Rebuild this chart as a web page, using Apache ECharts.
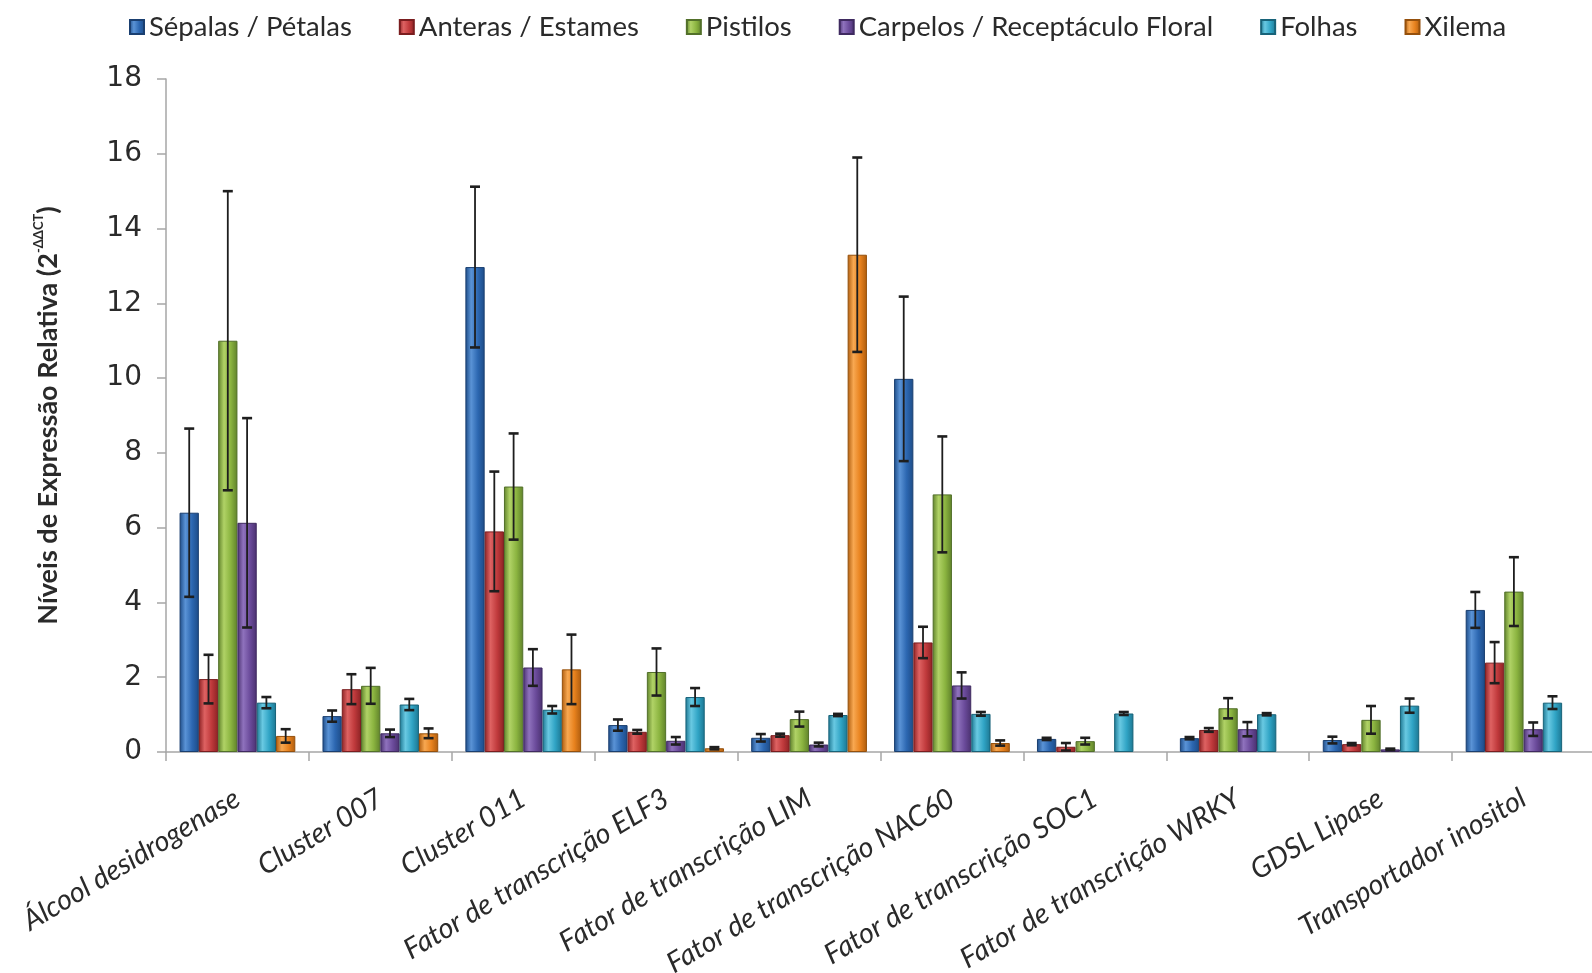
<!DOCTYPE html>
<html>
<head>
<meta charset="utf-8">
<script src="https://cdn.jsdelivr.net/npm/echarts@6/dist/echarts.min.js"></script>
<style>
  html, body { margin: 0; padding: 0; background: #ffffff; }
  #chart { width: 1592px; height: 973px; }
</style>
</head>
<body>
<div id="chart"></div>
<script>
// Gene categories along the x axis
const categories = [
  'Álcool desidrogenase', 'Cluster 007', 'Cluster 011', 'Fator de transcrição ELF3',
  'Fator de transcrição LIM', 'Fator de transcrição NAC60', 'Fator de transcrição SOC1',
  'Fator de transcrição WRKY', 'GDSL Lipase', 'Transportador inositol'
];

// Tissue names (legend)
const tissues = ['Sépalas / Pétalas', 'Anteras / Estames', 'Pistilos', 'Carpelos / Receptáculo Floral', 'Folhas', 'Xilema'];

// Mean relative expression per tissue ('-' = not measured / not shown)
const sepalas   = [6.40, 0.96, 12.97, 0.72, 0.38, 9.98, 0.35, 0.37, 0.32, 3.80];
const anteras   = [1.95, 1.68, 5.90, 0.54, 0.45, 2.93, 0.14, 0.59, 0.21, 2.39];
const pistilos  = [11.00, 1.77, 7.10, 2.14, 0.88, 6.89, 0.29, 1.17, 0.86, 4.29];
const carpelos  = [6.13, 0.50, 2.26, 0.30, 0.20, 1.78, '-', 0.61, 0.07, 0.61];
const folhas    = [1.32, 1.27, 1.13, 1.47, 0.99, 1.02, 1.03, 1.01, 1.24, 1.32];
const xilema    = [0.43, 0.50, 2.21, 0.10, 13.30, 0.24, '-', '-', '-', '-'];

// Standard deviation (error bar half-length) per tissue
const sepalasErr  = [2.25, 0.15, 2.15, 0.15, 0.10, 2.20, 0.03, 0.03, 0.09, 0.48];
const anterasErr  = [0.65, 0.40, 1.60, 0.05, 0.04, 0.42, 0.10, 0.05, 0.03, 0.55];
const pistilosErr = [4.00, 0.48, 1.42, 0.63, 0.20, 1.55, 0.09, 0.27, 0.37, 0.92];
const carpelosErr = [2.80, 0.10, 0.49, 0.10, 0.05, 0.35, 0, 0.19, 0.02, 0.18];
const folhasErr   = [0.15, 0.15, 0.10, 0.24, 0.03, 0.05, 0.04, 0.03, 0.19, 0.17];
const xilemaErr   = [0.18, 0.13, 0.93, 0.03, 2.60, 0.07, 0, 0, 0, 0];

// Y axis ticks
const yMin = 0, yMax = 18, yStep = 2;

const means = [sepalas, anteras, pistilos, carpelos, folhas, xilema];
const errs  = [sepalasErr, anterasErr, pistilosErr, carpelosErr, folhasErr, xilemaErr];

// dark / light / base / border tones for each tissue
const palette = [
  ['#1d4b86', '#5a93d6', '#2c67b1', '#1a3f70'],
  ['#8c2224', '#de6262', '#c03a3c', '#7a1d1f'],
  ['#5f812a', '#b0d266', '#8bb440', '#52702a'],
  ['#4a316f', '#8f72bd', '#6b4b9b', '#3f2a60'],
  ['#1c7691', '#69c9e2', '#30a4c5', '#186379'],
  ['#ae5c0e', '#f8a851', '#e8821e', '#95500c']
];

function barFill(p) {
  return {
    type: 'linear', x: 0, y: 0, x2: 1, y2: 0,
    colorStops: [
      { offset: 0, color: p[0] },
      { offset: 0.3, color: p[1] },
      { offset: 0.65, color: p[2] },
      { offset: 1, color: p[0] }
    ]
  };
}

const CAT_GAP = 0.19;
const N = tissues.length;

const barSeries = tissues.map((name, i) => ({
  name: name,
  type: 'bar',
  data: means[i],
  barGap: '0%',
  barCategoryGap: (CAT_GAP * 100) + '%',
  itemStyle: { color: barFill(palette[i]), borderColor: palette[i][3], borderWidth: 1 },
  emphasis: { disabled: true },
  z: 2
}));

// error bar records: [categoryIndex, tissueIndex, low, high]
const errData = [];
means.forEach((arr, si) => {
  arr.forEach((v, ci) => {
    const e = errs[si][ci];
    if (typeof v === 'number' && e > 0) errData.push([ci, si, Math.max(0, v - e), v + e]);
  });
});

const errorSeries = {
  type: 'custom',
  name: 'erro',
  data: errData,
  encode: { x: 0, y: [2, 3] },
  z: 5,
  silent: true,
  renderItem: function (params, api) {
    const ci = api.value(0), si = api.value(1);
    const band = api.size([1, 0])[0];
    const total = band * (1 - CAT_GAP);
    const bw = total / N;
    const x = api.coord([ci, 0])[0] - total / 2 + (si + 0.5) * bw;
    const yLo = api.coord([ci, api.value(2)])[1];
    const yHi = api.coord([ci, api.value(3)])[1];
    const cap = 5;
    const st = { stroke: '#1e1e1e', lineWidth: 1.8 };
    return {
      type: 'group',
      children: [
        { type: 'line', shape: { x1: x, y1: yLo, x2: x, y2: yHi }, style: st },
        { type: 'line', shape: { x1: x - cap, y1: yHi, x2: x + cap, y2: yHi }, style: { stroke: '#1e1e1e', lineWidth: 2.6 } },
        { type: 'line', shape: { x1: x - cap, y1: yLo, x2: x + cap, y2: yLo }, style: { stroke: '#1e1e1e', lineWidth: 2.6 } }
      ]
    };
  }
};

const chart = echarts.init(document.getElementById('chart'), null, { renderer: 'canvas' });
chart.setOption({
  backgroundColor: '#ffffff',
  animation: false,
  legend: {
    data: tissues,
    left: 124,
    top: 8,
    itemWidth: 14,
    itemHeight: 14,
    itemGap: 47,
    icon: 'rect',
    textStyle: { fontFamily: 'Lato', fontSize: 27.5, color: '#2a2a2a' }
  },
  grid: {
    left: 166,
    top: 79,
    bottom: 221,
    width: 1429,
    containLabel: false,
    outerBoundsMode: 'none'
  },
  xAxis: {
    type: 'category',
    data: categories,
    axisLine: { show: true, lineStyle: { color: '#a6a6a6', width: 1.5 } },
    axisTick: { show: true, alignWithLabel: false, length: 9, lineStyle: { color: '#a6a6a6', width: 1.5 } },
    axisLabel: {
      rotate: 31,
      margin: 44,
      interval: 0,
      fontFamily: 'Lato',
      fontStyle: 'italic',
      fontSize: 28.5,
      color: '#2a2a2a'
    },
    splitLine: { show: false }
  },
  yAxis: {
    type: 'value',
    min: yMin,
    max: yMax,
    interval: yStep,
    name: '{m|Níveis de Expressão Relativa (2}{s|-ΔΔCT}{m|)}',
    nameLocation: 'middle',
    nameGap: 102,
    nameRotate: 90,
    nameTextStyle: {
      rich: {
        m: { fontFamily: 'Lato', fontWeight: 'bold', fontSize: 27, color: '#2a2a2a', lineHeight: 32 },
        s: { fontFamily: 'Lato', fontWeight: 'bold', fontSize: 13, color: '#2a2a2a', lineHeight: 32, verticalAlign: 'top' }
      }
    },
    axisLine: { show: true, lineStyle: { color: '#a6a6a6', width: 1.5 } },
    axisTick: { show: true, length: 9, lineStyle: { color: '#a6a6a6', width: 1.5 } },
    axisLabel: { fontFamily: 'DejaVu Sans', fontSize: 28, color: '#2a2a2a', margin: 24 },
    splitLine: { show: false }
  },
  series: barSeries.concat([errorSeries])
});
</script>
</body>
</html>
